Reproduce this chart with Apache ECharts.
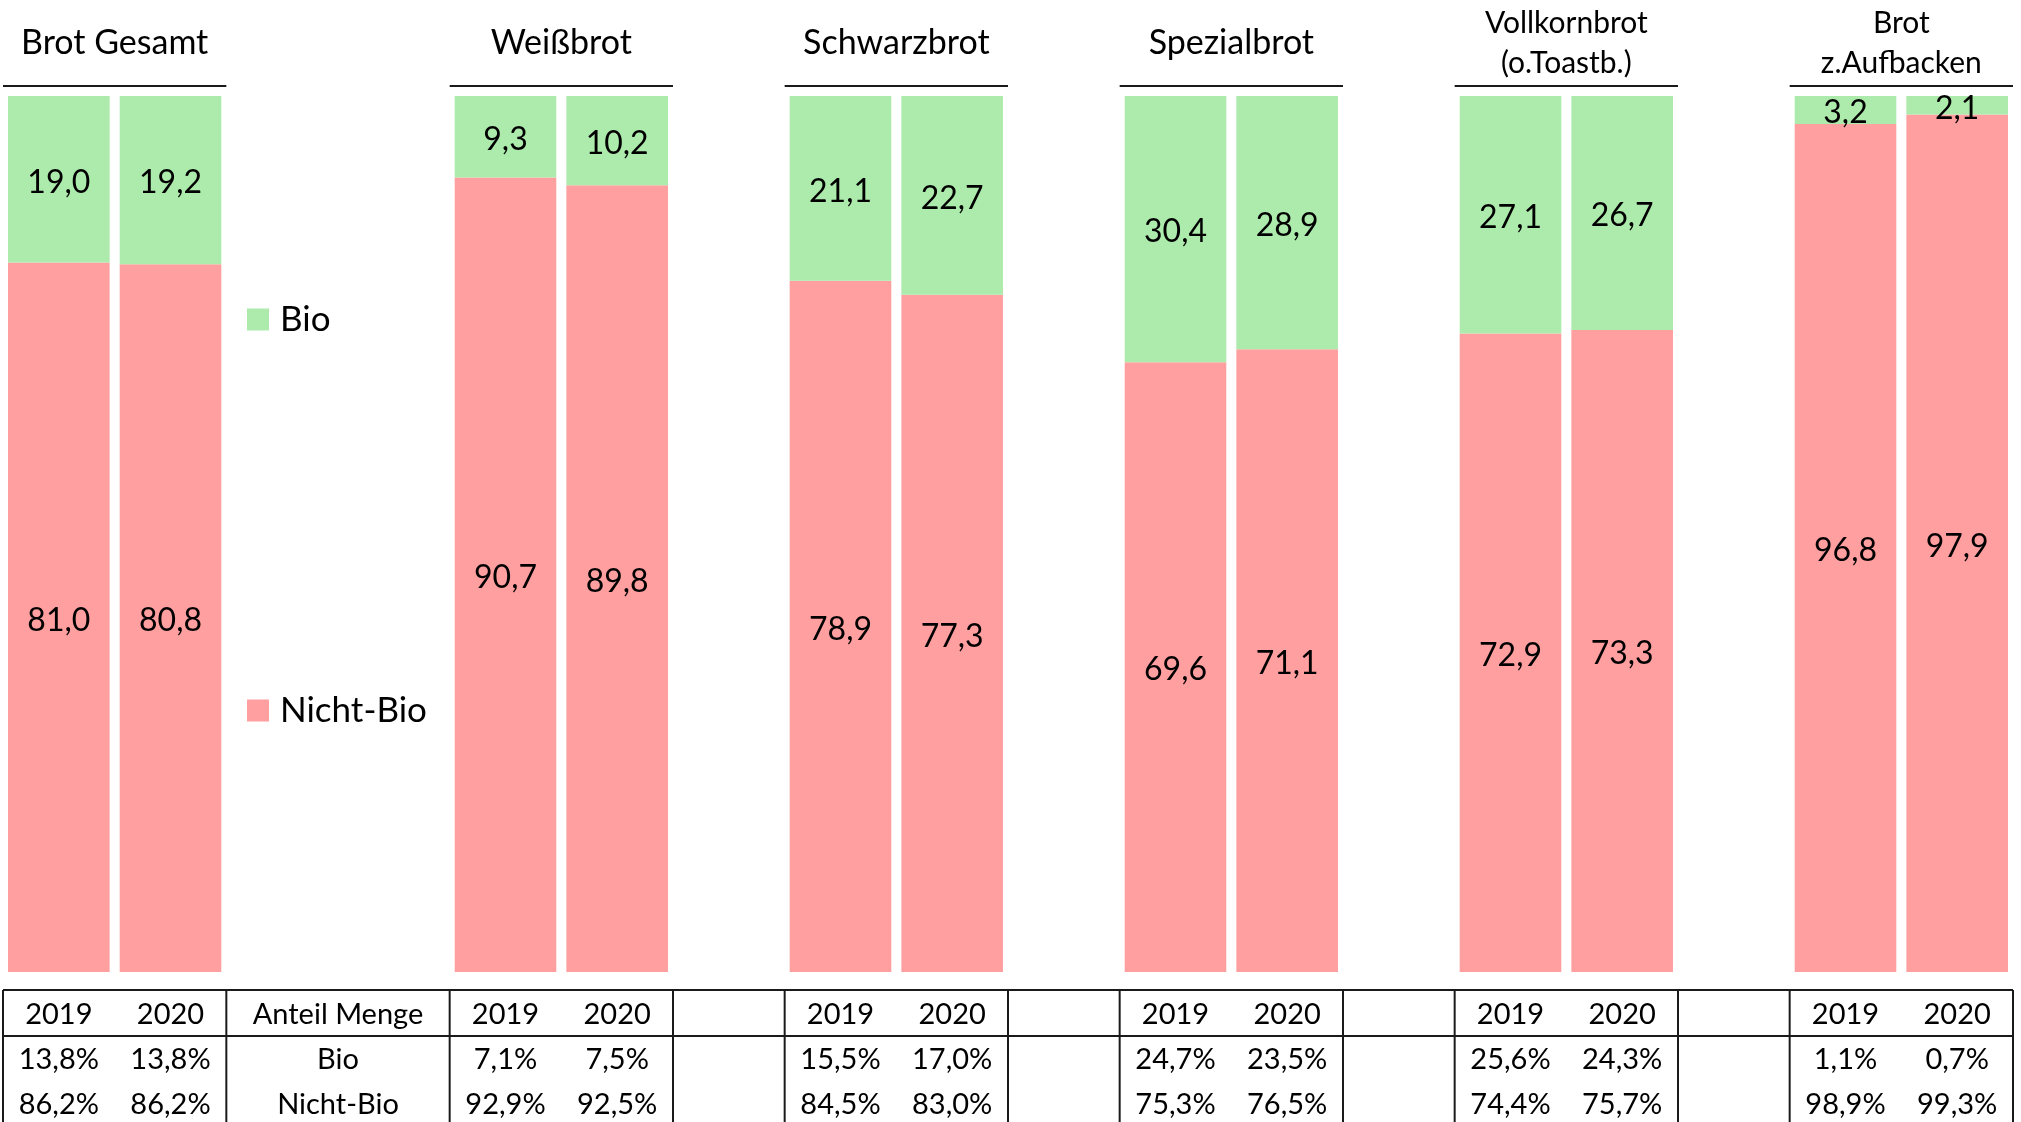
<!DOCTYPE html>
<html>
<head>
<meta charset="utf-8">
<script src="https://cdn.jsdelivr.net/npm/echarts@6/dist/echarts.min.js"></script>
<style>
  html, body { margin: 0; padding: 0; background: #ffffff; }
  #chart { width: 2021px; height: 1122px; }
</style>
</head>
<body>
<div id="chart"></div>
<script>
// Bread categories and survey years
const groups = ['Brot Gesamt', 'Weißbrot', 'Schwarzbrot', 'Spezialbrot', 'Vollkornbrot\n(o.Toastb.)', 'Brot\nz.Aufbacken'];
const years = ['2019', '2020'];

// Value split (percent) per category, Bio vs. Nicht-Bio
const bio2019 = [19.0, 9.3, 21.1, 30.4, 27.1, 3.2];
const bio2020 = [19.2, 10.2, 22.7, 28.9, 26.7, 2.1];
const nonBio2019 = [81.0, 90.7, 78.9, 69.6, 72.9, 96.8];
const nonBio2020 = [80.8, 89.8, 77.3, 71.1, 73.3, 97.9];

// Quantity share (percent) shown in the table below the bars
const shareBio2019 = [13.8, 7.1, 15.5, 24.7, 25.6, 1.1];
const shareBio2020 = [13.8, 7.5, 17.0, 23.5, 24.3, 0.7];
const shareNonBio2019 = [86.2, 92.9, 84.5, 75.3, 74.4, 98.9];
const shareNonBio2020 = [86.2, 92.5, 83.0, 76.5, 75.7, 99.3];

const tableTitle = 'Anteil Menge';
const seriesNames = ['Bio', 'Nicht-Bio'];

const FONT = 'Lato, "Open Sans", sans-serif';
const GREEN = '#adebad';
const PINK = '#ff9fa0';
const LINE = '#1a1a1a';

const bioByYear = [bio2019, bio2020];
const nonBioByYear = [nonBio2019, nonBio2020];
const shareBioByYear = [shareBio2019, shareBio2020];
const shareNonBioByYear = [shareNonBio2019, shareNonBio2020];

// Column slots: two year columns per category; the first category is followed
// by a wide gap (legend + table row titles), the others by a single blank column.
const slots = [];
groups.forEach((g, gi) => {
  const spacers = gi === 0 ? 0 : (gi === 1 ? 2 : 1);
  for (let s = 0; s < spacers; s++) slots.push(null);
  years.forEach((y, yi) => slots.push({ g: gi, y: yi }));
});
const slotNames = slots.map((s, i) => s ? groups[s.g] + ' ' + years[s.y] : 'gap' + i);

const fmt = v => v.toFixed(1).replace('.', ',');

const bioData = slots.map(s => s ? bioByYear[s.y][s.g] : '-');
const nonBioData = slots.map(s => s ? nonBioByYear[s.y][s.g] : '-');

const chart = echarts.init(document.getElementById('chart'), null, { renderer: 'canvas' });

const labelStyle = {
  show: true,
  position: 'inside',
  offset: [0, 3],
  color: '#000',
  fontFamily: FONT,
  fontSize: 32,
  formatter: p => fmt(p.value)
};

const legendText = { fontFamily: FONT, fontSize: 35, color: '#000', padding: [0, 0, 0, 6] };

chart.setOption({
  animation: false,
  backgroundColor: '#ffffff',
  grid: { left: 3, right: 8, top: 96, bottom: 150, containLabel: false },
  xAxis: {
    type: 'category',
    data: slotNames,
    show: false
  },
  yAxis: { type: 'value', min: 0, max: 100, show: false },
  legend: [
    {
      data: [seriesNames[0]], left: 247, top: 302, padding: 0,
      icon: 'rect', itemWidth: 22, itemHeight: 22, selectedMode: false,
      textStyle: legendText
    },
    {
      data: [seriesNames[1]], left: 247, top: 693, padding: 0,
      icon: 'rect', itemWidth: 22, itemHeight: 22, selectedMode: false,
      textStyle: legendText
    }
  ],
  series: [
    {
      name: seriesNames[1], type: 'bar', stack: 'total', data: nonBioData,
      barWidth: '91%', itemStyle: { color: PINK }, label: labelStyle
    },
    {
      name: seriesNames[0], type: 'bar', stack: 'total', data: bioData,
      barWidth: '91%', itemStyle: { color: GREEN }, label: labelStyle
    }
  ]
});

// Headers, underlines and the share table, placed on the category scale
const center = i => chart.convertToPixel({ xAxisIndex: 0 }, slotNames[i]);
const band = center(1) - center(0);
const leftEdge = i => center(i) - band / 2;
const rightEdge = i => center(i) + band / 2;

const graphics = [];
const firstSlot = groups.map((g, gi) => slots.findIndex(s => s && s.g === gi));

const tableTop = 990, headSep = 1036, tableBottom = 1122;
const rowY = [1015, 1060, 1105];
const tableLeft = leftEdge(0), tableRight = rightEdge(slots.length - 1);

const text = (x, y, str, size, extra) => graphics.push({
  type: 'text', x: x, y: y, silent: true,
  style: Object.assign({
    text: str, fill: '#000', font: size + 'px ' + FONT,
    textAlign: 'center', textVerticalAlign: 'middle'
  }, extra || {})
});
const line = (x1, y1, x2, y2, w) => graphics.push({
  type: 'line', silent: true,
  shape: { x1: x1, y1: y1, x2: x2, y2: y2 },
  style: { stroke: LINE, lineWidth: w }
});

groups.forEach((g, gi) => {
  const a = firstSlot[gi], b = a + 1;
  const cx = (center(a) + center(b)) / 2;
  const twoLines = g.indexOf('\n') >= 0;
  text(cx, 43, g, twoLines ? 30 : 34, twoLines ? { lineHeight: 40 } : null);
  line(leftEdge(a), 86, rightEdge(b), 86, 2);

  // table columns for this category
  years.forEach((y, yi) => {
    const x = center(a + yi);
    text(x, rowY[0], y, 29);
    text(x, rowY[1], fmt(shareBioByYear[yi][gi]) + '%', 29);
    text(x, rowY[2], fmt(shareNonBioByYear[yi][gi]) + '%', 29);
  });
  line(leftEdge(a), tableTop, leftEdge(a), tableBottom, 2);
  line(rightEdge(b), tableTop, rightEdge(b), tableBottom, 2);
});

// row titles between the first two categories
const titleX = (rightEdge(firstSlot[0] + 1) + leftEdge(firstSlot[1])) / 2;
text(titleX, rowY[0], tableTitle, 29);
text(titleX, rowY[1], seriesNames[0], 29);
text(titleX, rowY[2], seriesNames[1], 29);

line(tableLeft, tableTop, tableRight, tableTop, 2);
line(tableLeft, headSep, tableRight, headSep, 2);

chart.setOption({ graphic: graphics });
</script>
</body>
</html>
